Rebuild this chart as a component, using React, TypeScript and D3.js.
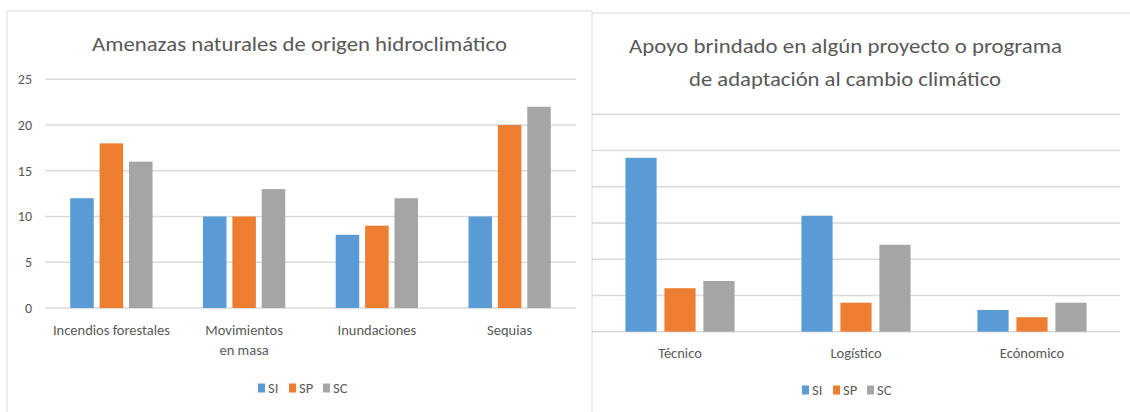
import React from 'react';
import * as d3 from 'd3';

// left chart: amenazas naturales
const amenazasCats = ['Incendios forestales', 'Movimientos\nen masa', 'Inundaciones', 'Sequias'];
const amenazasSI = [12, 10, 8, 10];
const amenazasSP = [18, 10, 9, 20];
const amenazasSC = [16, 13, 12, 22];
const amenazasTicks = [0, 5, 10, 15, 20, 25];

// right chart: apoyo brindado
const apoyoCats = ['Técnico', 'Logístico', 'Ecónomico'];
const apoyoSI = [24, 16, 3];
const apoyoSP = [6, 4, 2];
const apoyoSC = [7, 12, 4];
const apoyoTicks = [0, 5, 10, 15, 20, 25, 30];

const seriesNames = ['SI', 'SP', 'SC'];
const colors = ['#5B9BD5', '#ED7D31', '#A5A5A5'];

const FONT = "Carlito, Lato, 'Open Sans', sans-serif";
const TXT = '#595959';
const GRID = '#D9D9D9';

type ChartProps = {
  cats: string[];
  series: number[][];
  ticks: number[];
  left: number;
  right: number;
  top: number;
  bottom: number;
  showYLabels: boolean;
  labelY: number;
  legendX: number;
  legendY: number;
};

function BarChart(p: ChartProps) {
  const x0 = d3.scaleBand<number>()
    .domain(p.cats.map((_, i) => i))
    .range([p.left, p.right])
    .paddingInner(0.38)
    .paddingOuter(0.19);
  const x1 = d3.scaleBand<number>()
    .domain(seriesNames.map((_, i) => i))
    .range([0, x0.bandwidth()])
    .paddingInner(0.2);
  const y = d3.scaleLinear()
    .domain([0, d3.max(p.ticks) as number])
    .range([p.bottom, p.top]);

  const legendOffsets = [0, 31, 65];

  return (
    <g>
      {p.ticks.map(t => (
        <g key={t}>
          <line x1={p.left} x2={p.right} y1={y(t)} y2={y(t)} stroke={GRID} strokeWidth={1.4} />
          {p.showYLabels && (
            <text x={p.left - 13} y={y(t)} dy="0.35em" textAnchor="end" fontSize={14} fill={TXT}>{t}</text>
          )}
        </g>
      ))}
      {p.cats.map((c, ci) => (
        <g key={c} transform={`translate(${x0(ci)},0)`}>
          {p.series.map((s, si) => (
            <rect key={si} x={x1(si)} y={y(s[ci])} width={x1.bandwidth()}
              height={p.bottom - y(s[ci])} fill={colors[si]} />
          ))}
          {c.split('\n').map((line, li) => (
            <text key={li} x={x0.bandwidth() / 2} y={p.labelY + li * 20} textAnchor="middle"
              fontSize={14.5} fill={TXT}>{line}</text>
          ))}
        </g>
      ))}
      {seriesNames.map((n, i) => (
        <g key={n} transform={`translate(${p.legendX + legendOffsets[i]},${p.legendY})`}>
          <rect x={0} y={-4.5} width={7} height={9} fill={colors[i]} />
          <text x={10} y={0} dy="0.35em" fontSize={14.5} fill={TXT}>{n}</text>
        </g>
      ))}
    </g>
  );
}

export default function App() {
  return (
    <svg width={1130} height={412} style={{ position: 'absolute', left: 0, top: 0, background: '#fff' }}
      fontFamily={FONT}>
      {/* panel borders */}
      <path d="M7,412 V11 H592 V412" fill="none" stroke={GRID} strokeWidth={1} />
      <path d="M592,13 H1130" fill="none" stroke={GRID} strokeWidth={1} />

      <text x={299.5} y={51} textAnchor="middle" fontSize={21} fill={TXT}
        textLength={415} lengthAdjust="spacingAndGlyphs">Amenazas naturales de origen hidroclimático</text>
      <BarChart cats={amenazasCats} series={[amenazasSI, amenazasSP, amenazasSC]} ticks={amenazasTicks}
        left={45} right={576} top={79.3} bottom={308} showYLabels={true}
        labelY={335} legendX={258} legendY={388} />

      <text x={845.5} y={53} textAnchor="middle" fontSize={21} fill={TXT}
        textLength={433} lengthAdjust="spacingAndGlyphs">Apoyo brindado en algún proyecto o programa</text>
      <text x={845} y={86} textAnchor="middle" fontSize={21} fill={TXT}
        textLength={312} lengthAdjust="spacingAndGlyphs">de adaptación al cambio climático</text>
      <BarChart cats={apoyoCats} series={[apoyoSI, apoyoSP, apoyoSC]} ticks={apoyoTicks}
        left={592} right={1120} top={114.3} bottom={331.7} showYLabels={false}
        labelY={358} legendX={802} legendY={390} />
    </svg>
  );
}
